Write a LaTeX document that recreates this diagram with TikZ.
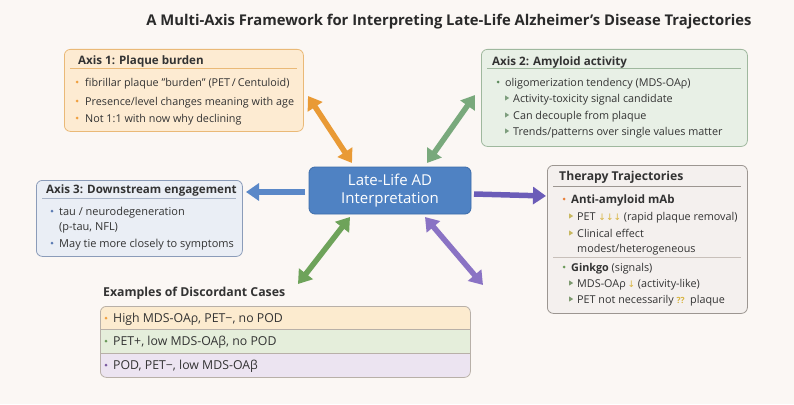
\documentclass[tikz,border=0pt]{standalone}
\usepackage{fontspec}
\setmainfont{Open Sans}
\newfontfamily\dv{DejaVu Sans}
\usetikzlibrary{arrows.meta}
\definecolor{bgc}{HTML}{FBF7F4}
\definecolor{txtc}{HTML}{333333}
\definecolor{titlec}{HTML}{2A2A2A}
\definecolor{ax1f}{HTML}{FDEBD2}
\definecolor{ax1d}{HTML}{EAB977}
\definecolor{ax1b}{HTML}{F0A040}
\definecolor{ax2f}{HTML}{E8F0E6}
\definecolor{ax2d}{HTML}{9FB89E}
\definecolor{ax2b}{HTML}{5C8A5C}
\definecolor{ax2t}{HTML}{7E9E7E}
\definecolor{ax3f}{HTML}{EAEEF5}
\definecolor{ax3d}{HTML}{8B9CB9}
\definecolor{ax3b}{HTML}{5B7BB3}
\definecolor{ax3s}{HTML}{A8B4C8}
\definecolor{thf}{HTML}{F4F0EE}
\definecolor{thd}{HTML}{9C9691}
\definecolor{ths}{HTML}{C8C0BA}
\definecolor{thor}{HTML}{E8803A}
\definecolor{thgr}{HTML}{6B9A5A}
\definecolor{thyt}{HTML}{C8B860}
\definecolor{thgt}{HTML}{7E9A70}
\definecolor{yarr}{HTML}{D8B440}
\definecolor{ctrf}{HTML}{4F82C3}
\definecolor{ctrd}{HTML}{3D6DAA}
\definecolor{exr1}{HTML}{FCEBCF}
\definecolor{exr2}{HTML}{E5EEDB}
\definecolor{exr3}{HTML}{ECE4F1}
\definecolor{exd}{HTML}{B8B0A8}
\definecolor{exb3}{HTML}{7A5AA0}
\definecolor{aor}{HTML}{E99A35}
\definecolor{agr1}{HTML}{79A97C}
\definecolor{abl}{HTML}{5A88C8}
\definecolor{apu1}{HTML}{6B5CB8}
\definecolor{agr2}{HTML}{6EA35A}
\definecolor{apu2}{HTML}{8A73C4}
\tikzset{
  panel/.style={rectangle, rounded corners=6pt, line width=0.8pt, anchor=north west, inner sep=0pt},
  hdr/.style={font=\bfseries\fontsize{11.6}{13}\selectfont, text=txtc, anchor=base west, inner sep=0pt},
  txt/.style={font=\fontsize{10.8}{13}\selectfont, text=txtc, anchor=base west, inner sep=0pt},
  rowtxt/.style={font=\fontsize{12.3}{14}\selectfont, text=txtc, anchor=base west, inner sep=0pt},
  arr/.style={line width=5.5pt},
  tip/.tip={Triangle[width=17pt,length=13pt]},
}
\newcommand\bul[3]{\fill[#3] (#1,#2) circle (1.5pt);}
\newcommand\tri[3]{\fill[#3] (#1,#2-2.6) -- (#1+4.2,#2) -- (#1,#2+2.6) -- cycle;}
\begin{document}
\begin{tikzpicture}[x=1pt,y=-1pt]
\fill[bgc] (0,0) rectangle (794,404);
\useasboundingbox (0,0) rectangle (794,404);

% title
\node[font=\bfseries\fontsize{14.8}{16}\selectfont, text=titlec] (title) at (449,22) {A Multi-Axis Framework for Interpreting Late-Life Alzheimer’s Disease Trajectories};

% Axis 1
\node[panel, draw=ax1d, fill=ax1f, minimum width=239pt, minimum height=82pt] (ax1) at (64,49) {};
\node[hdr] (ax1h) at (78,64) {Axis 1: Plaque burden};
\draw[ax1d, line width=0.8pt] (70,68) -- (297,68);
\bul{77}{82}{ax1b}
\node[txt] (ax1l1) at (85,86) {fibrillar plaque "burden" (PET\,/\,Centuloid)};
\bul{77}{101}{ax1b}
\node[txt] (ax1l2) at (85,105) {Presence/level changes meaning with age};
\bul{77}{118}{ax1b}
\node[txt] (ax1l3) at (85,122) {Not 1:1 with now why declining};

% Axis 2
\node[panel, draw=ax2d, fill=ax2f, minimum width=266pt, minimum height=97pt] (ax2) at (481,49) {};
\node[hdr] (ax2h) at (492,65) {Axis 2: Amyloid activity};
\draw[ax2d, line width=0.8pt] (487,68) -- (741,68);
\bul{498}{82}{ax2b}
\node[txt] (ax2l1) at (505,86) {oligomerization tendency (MDS-OAρ)};
\tri{505}{98}{ax2t}
\node[txt] (ax2l2) at (513,102) {Activity-toxicity signal candidate};
\tri{505}{115}{ax2t}
\node[txt] (ax2l3) at (513,119) {Can decouple from plaque};
\tri{505}{131}{ax2t}
\node[txt] (ax2l4) at (513,135) {Trends/patterns over single values matter};

% Axis 3
\node[panel, draw=ax3d, fill=ax3f, minimum width=206pt, minimum height=76pt] (ax3) at (36,180) {};
\node[hdr] (ax3h) at (46,193) {Axis 3: Downstream engagement};
\draw[ax3s, line width=0.8pt] (42,198) -- (236,198);
\bul{52}{211}{ax3b}
\node[txt, font=\fontsize{11}{13}\selectfont] (ax3l1) at (59,215) {tau / neurodegeneration};
\node[txt, font=\fontsize{11}{13}\selectfont] (ax3l2) at (59,230) {(p-tau, NFL)};
\bul{52}{243}{ax3b}
\node[txt, font=\fontsize{11}{13}\selectfont] (ax3l3) at (59,247) {May tie more closely to symptoms};

% Therapy
\node[panel, draw=thd, fill=thf, minimum width=200pt, minimum height=148pt] (th) at (547,165) {};
\node[hdr, font=\bfseries\fontsize{12.2}{14}\selectfont] (thh) at (559,180) {Therapy Trajectories};
\draw[thd, line width=0.8pt] (553,186) -- (741,186);
\bul{564}{199}{thor}
\node[txt, font=\bfseries\fontsize{11.5}{13}\selectfont] (thl1) at (571,203) {Anti-amyloid mAb};
\tri{569}{216}{thyt}
\node[txt] (thl2) at (577,220) {PET {\dv\color{yarr}\fontsize{9}{10}\selectfont↓↓↓} (rapid plaque removal)};
\tri{569}{233}{thyt}
\node[txt] (thl3) at (577,237) {Clinical effect};
\node[txt] (thl4) at (577,252) {modest/heterogeneous};
\draw[ths, line width=0.7pt] (553,257) -- (741,257);
\bul{564}{267}{thgr}
\node[txt] (thl5) at (571,271) {\textbf{Ginkgo} (signals)};
\tri{569}{283}{thgt}
\node[txt] (thl6) at (577,287) {MDS-OAρ\,{\dv\color{yarr}\fontsize{9}{10}\selectfont↓} (activity-like)};
\tri{569}{299}{thgt}
\node[txt] (thl7) at (577,303) {PET not necessarily {\color{yarr}\bfseries\fontsize{8.5}{10}\selectfont ??}\, plaque};

% Center
\node[rectangle, rounded corners=6pt, draw=ctrd, fill=ctrf, line width=0.8pt, minimum width=162pt, minimum height=47pt, align=center, text=white, font=\fontsize{15}{18}\selectfont] (ctr) at (390,190.5) {Late-Life AD\\Interpretation};

% Examples
\node[font=\fontsize{12.3}{14}\selectfont\bfseries, text=txtc, anchor=base west, inner sep=0pt] (exh) at (103,296) {Examples of Discordant Cases};
\begin{scope}
\clip[rounded corners=6pt] (100,306) rectangle (470,377);
\fill[exr1] (100,306) rectangle (470,329);
\fill[exr2] (100,329) rectangle (470,353);
\fill[exr3] (100,353) rectangle (470,377);
\end{scope}
\draw[exd, line width=0.6pt] (100,329) -- (470,329);
\draw[exd, line width=0.6pt] (100,353) -- (470,353);
\node[panel, draw=exd, minimum width=370pt, minimum height=71pt] (ex) at (100,306) {};
\bul{106}{318}{ax1b}
\node[rowtxt] (exl1) at (113,322) {High MDS-OAρ, PET−, no POD};
\bul{106}{341}{thgr}
\node[rowtxt] (exl2) at (113,345) {PET+, low MDS-OAβ, no POD};
\bul{106}{365}{exb3}
\node[rowtxt] (exl3) at (113,369) {POD, PET−, low MDS-OAβ};

% arrows
\coordinate (o1) at (308,96);  \coordinate (o2) at (352,163);
\coordinate (g1) at (475,95);  \coordinate (g2) at (427,163);
\coordinate (b1) at (305,192); \coordinate (b2) at (246,192);
\coordinate (p1) at (474,194); \coordinate (p2) at (546,196);
\coordinate (q1) at (350,217); \coordinate (q2) at (298,284);
\coordinate (r1) at (425,217); \coordinate (r2) at (483,285);
\draw[arr, aor, tip-tip] (o1) -- (o2);
\draw[arr, agr1, tip-tip] (g1) -- (g2);
\draw[arr, abl, -tip] (b1) -- (b2);
\draw[arr, apu1, -tip] (p1) -- (p2);
\draw[arr, agr2, tip-tip] (q1) -- (q2);
\draw[arr, apu2, tip-tip] (r1) -- (r2);
\end{tikzpicture}
\end{document}
